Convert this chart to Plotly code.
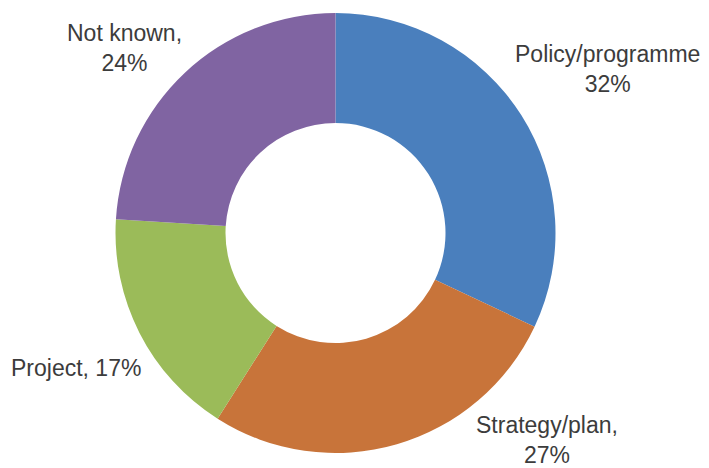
import plotly.graph_objects as go

W, H = 709, 468

# slice data (clockwise from 12 o'clock)
labels = ['Policy/programme', 'Strategy/plan', 'Project', 'Not known']
values = [32, 27, 17, 24]
colors = ['#4a7fbd', '#c8743a', '#9bbb59', '#8064a2']

# label text layout: (template, x px, y px from top)
label_text = [
    ('{l}<br>{v}%', 607, 69),
    ('{l},<br>{v}%', 547, 440),
    ('{l}, {v}%', 76, 368),
    ('{l},<br>{v}%', 124, 48),
]

fig = go.Figure(go.Pie(
    labels=labels,
    values=values,
    hole=0.5,
    sort=False,
    direction='clockwise',
    rotation=0,
    marker=dict(colors=colors, line=dict(width=0)),
    textinfo='none',
    hoverinfo='label+percent',
    showlegend=False,
    domain=dict(x=[115.5 / W, 555.5 / W], y=[15 / H, 455 / H]),
))

for (tpl, px, py), lab, val in zip(label_text, labels, values):
    fig.add_annotation(
        text=tpl.format(l=lab, v=val),
        x=px / W, y=1 - py / H,
        xref='paper', yref='paper',
        xanchor='center', yanchor='middle',
        showarrow=False,
        align='center',
        font=dict(family='Liberation Sans, Arial', size=23, color='#3c3c3c'),
    )

fig.update_layout(
    width=W, height=H,
    margin=dict(l=0, r=0, t=0, b=0),
    paper_bgcolor='white',
    plot_bgcolor='white',
)

# drop the default 8px body margin so the figure sits at the window origin
fig.write_html("out.html", config={'displayModeBar': False},
               post_script="document.body.style.margin='0';")
